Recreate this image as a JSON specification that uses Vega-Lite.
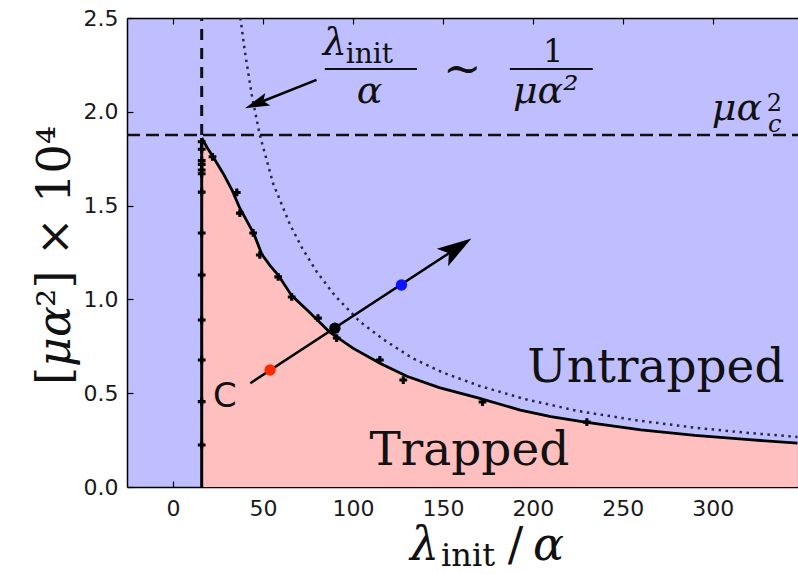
{
  "$schema": "https://vega.github.io/schema/vega-lite/v6.json",
  "width": 671,
  "height": 469,
  "autosize": {"type": "none"},
  "padding": {"left": 127, "top": 18, "right": 0, "bottom": 87},
  "background": "white",
  "config": {
    "view": {"fill": "#bfbfff", "stroke": null},
    "axis": {
      "domainColor": "black", "domainWidth": 1.5, "tickColor": "black", "tickWidth": 1.2,
      "tickSize": -6, "labelFont": "DejaVu Sans", "labelFontSize": 22, "labelColor": "#1a1a1a",
      "grid": false, "title": null
    }
  },
  "resolve": {"axis": {"x": "independent"}},
  "datasets": {
    "curve": [
      {"x": 16, "y": 1.86}, {"x": 19, "y": 1.81}, {"x": 22.3, "y": 1.76}, {"x": 28, "y": 1.67},
      {"x": 33, "y": 1.58}, {"x": 37, "y": 1.49}, {"x": 41, "y": 1.42}, {"x": 45, "y": 1.35},
      {"x": 49.4, "y": 1.24}, {"x": 54, "y": 1.18}, {"x": 58.5, "y": 1.13}, {"x": 66, "y": 1.02},
      {"x": 75, "y": 0.94}, {"x": 87, "y": 0.826}, {"x": 100, "y": 0.74}, {"x": 115, "y": 0.66},
      {"x": 130, "y": 0.59}, {"x": 148, "y": 0.53}, {"x": 170, "y": 0.474}, {"x": 193, "y": 0.41},
      {"x": 210, "y": 0.375}, {"x": 229, "y": 0.346}, {"x": 260, "y": 0.305}, {"x": 290, "y": 0.275},
      {"x": 320, "y": 0.252}, {"x": 347, "y": 0.234}
    ],
    "dotted": [
      {"x": 37.5, "y": 2.5}, {"x": 40, "y": 2.32}, {"x": 44, "y": 2.08}, {"x": 48.3, "y": 1.876},
      {"x": 55.6, "y": 1.62}, {"x": 65, "y": 1.4}, {"x": 72, "y": 1.27}, {"x": 80, "y": 1.146},
      {"x": 90, "y": 1.02}, {"x": 104, "y": 0.88}, {"x": 118, "y": 0.78}, {"x": 133, "y": 0.687},
      {"x": 150, "y": 0.61}, {"x": 170, "y": 0.54}, {"x": 195, "y": 0.47}, {"x": 225, "y": 0.405},
      {"x": 258, "y": 0.355}, {"x": 290, "y": 0.316}, {"x": 320, "y": 0.288}, {"x": 347, "y": 0.267}
    ],
    "markers": [
      {"x": 16, "y": 1.84}, {"x": 16, "y": 1.8}, {"x": 16, "y": 1.74}, {"x": 16, "y": 1.72},
      {"x": 16, "y": 1.69}, {"x": 16, "y": 1.67}, {"x": 16, "y": 1.572}, {"x": 16, "y": 1.354},
      {"x": 16, "y": 1.13}, {"x": 16, "y": 0.89}, {"x": 16, "y": 0.677}, {"x": 16, "y": 0.455},
      {"x": 16, "y": 0.224},
      {"x": 22, "y": 1.76}, {"x": 35.5, "y": 1.57}, {"x": 37.2, "y": 1.46}, {"x": 44.6, "y": 1.354},
      {"x": 48.3, "y": 1.237}, {"x": 58.5, "y": 1.12}, {"x": 66, "y": 1.013}, {"x": 80.6, "y": 0.9},
      {"x": 91, "y": 0.794}, {"x": 115, "y": 0.677}, {"x": 128, "y": 0.57}, {"x": 172, "y": 0.453},
      {"x": 230, "y": 0.346}
    ],
    "vsolid": [{"x": 16, "y": 0, "y2": 1.86}],
    "hdash": [{"x": -25.5, "x2": 347.3, "y": 1.876}],
    "vdash": [{"x": 16, "y": 1.876, "y2": 2.5}],
    "arrows": [
      {"arrow": "main", "x": 43, "y": 0.553}, {"arrow": "main", "x": 157.8, "y": 1.274},
      {"arrow": "note", "x": 79.8, "y": 2.17}, {"arrow": "note", "x": 46.4, "y": 2.043}
    ],
    "headMain": [{"x": 157.8, "y": 1.274}],
    "headNote": [{"x": 46.4, "y": 2.043}],
    "dots": [
      {"x": 54, "y": 0.624, "kind": "start"},
      {"x": 90, "y": 0.846, "kind": "cross"},
      {"x": 127, "y": 1.077, "kind": "end"}
    ],
    "fracBars": [
      {"x": 84.4, "x2": 135.6, "y": 2.228},
      {"x": 187.2, "x2": 233.3, "y": 2.228}
    ],
    "regionLabels": [
      {"x": 268.3, "y": 0.56, "t": "Untrapped"},
      {"x": 164.7, "y": 0.117, "t": "Trapped"}
    ],
    "italic38": [
      {"x": 83.3, "y": 2.303, "t": "λ"},
      {"x": 102.2, "y": 2.047, "t": "α"},
      {"x": 188.9, "y": 2.047, "t": "μα²"},
      {"x": 299.4, "y": 1.956, "t": "μα"}
    ],
    "one": [
      {"x": 205.6, "y": 2.265, "t": "1"}
    ],
    "tilde": [
      {"x": 150, "y": 2.148, "t": "∼"}
    ],
    "upright28": [
      {"x": 96, "y": 2.26, "t": "init"}
    ],
    "sup26": [
      {"x": 330, "y": 2.005, "t": "2"}
    ],
    "italic26": [
      {"x": 330.6, "y": 1.89, "t": "c"}
    ],
    "xtitleItalic": [
      {"x": 131.7, "y": -0.389, "t": "λ"},
      {"x": 200, "y": -0.389, "t": "α"}
    ],
    "xtitleSlash": [
      {"x": 186, "y": -0.389, "t": "/"}
    ],
    "xtitleSub": [
      {"x": 149, "y": -0.42, "t": "init"}
    ],
    "ytitleUpright": [
      {"x": -57.2, "y": 0.544, "t": "["},
      {"x": -57.2, "y": 0.96, "t": "²] × 10⁴"}
    ],
    "ytitleItalic": [
      {"x": -57.2, "y": 0.64, "t": "μα"}
    ],
    "cLabel": [{"x": 28.9, "y": 0.426, "t": "C"}]
  },
  "encoding": {
    "x": {
      "field": "x", "type": "quantitative",
      "scale": {"domain": [-25.5, 347.3], "nice": false, "zero": false},
      "axis": null
    },
    "y": {
      "field": "y", "type": "quantitative",
      "scale": {"domain": [0, 2.5], "nice": false, "zero": false},
      "axis": {"values": [0, 0.5, 1, 1.5, 2, 2.5], "format": ".1f", "labelPadding": 15}
    }
  },
  "layer": [
    {
      "data": {"name": "curve"},
      "mark": {"type": "area", "color": "#ffbfbf", "opacity": 1},
      "encoding": {
        "x": {
          "field": "x", "type": "quantitative",
          "scale": {"domain": [-25.5, 347.3], "nice": false, "zero": false},
          "axis": {"orient": "bottom", "values": [0, 50, 100, 150, 200, 250, 300], "labelPadding": 17}
        },
        "y2": {"datum": 0}
      }
    },
    {
      "data": {"name": "dotted"},
      "mark": {"type": "line", "color": "#26264d", "strokeWidth": 2.5, "strokeDash": [2.5, 4.5], "clip": true},
      "encoding": {}
    },
    {
      "data": {"name": "curve"},
      "mark": {"type": "line", "color": "black", "strokeWidth": 2.8},
      "encoding": {}
    },
    {
      "data": {"name": "vsolid"},
      "mark": {"type": "rule", "color": "black", "strokeWidth": 3},
      "encoding": {"y2": {"field": "y2"}}
    },
    {
      "data": {"name": "hdash"},
      "mark": {"type": "rule", "color": "#111", "strokeWidth": 2.5, "strokeDash": [13, 6]},
      "encoding": {"x2": {"field": "x2"}}
    },
    {
      "data": {"name": "vdash"},
      "mark": {"type": "rule", "color": "#111", "strokeWidth": 3, "strokeDash": [11, 8]},
      "encoding": {
        "x": {
          "field": "x", "type": "quantitative",
          "scale": {"domain": [-25.5, 347.3], "nice": false, "zero": false},
          "axis": {"orient": "top", "labels": false, "values": [0, 50, 100, 150, 200, 250, 300]}
        },
        "y2": {"field": "y2"}
      }
    },
    {
      "data": {"name": "markers"},
      "mark": {"type": "point", "shape": "cross", "filled": true, "color": "black", "size": 60, "opacity": 1},
      "encoding": {}
    },
    {
      "data": {"name": "arrows"},
      "mark": {"type": "line", "color": "black", "strokeWidth": 2.5},
      "encoding": {"detail": {"field": "arrow"}}
    },
    {
      "data": {"name": "headMain"},
      "mark": {"type": "point", "shape": "M1,0L-1,-0.6L-0.55,0L-1,0.6Z", "filled": true, "color": "black", "opacity": 1, "size": 1200, "angle": -33.2},
      "encoding": {}
    },
    {
      "data": {"name": "headNote"},
      "mark": {"type": "point", "shape": "M1,0L-1,-0.55L-0.6,0L-1,0.55Z", "filled": true, "color": "black", "opacity": 1, "size": 600, "angle": 158.5},
      "encoding": {}
    },
    {
      "data": {"name": "dots"},
      "mark": {"type": "point", "filled": true, "opacity": 1, "size": 130},
      "encoding": {
        "color": {"field": "kind", "type": "nominal", "scale": {"domain": ["start", "cross", "end"], "range": ["#ff2a00", "#000000", "#0a14ff"]}, "legend": null}
      }
    },
    {
      "data": {"name": "fracBars"},
      "mark": {"type": "rule", "color": "#111", "strokeWidth": 2},
      "encoding": {"x2": {"field": "x2"}}
    },
    {
      "data": {"name": "regionLabels"},
      "mark": {"type": "text", "font": "DejaVu Serif", "fontSize": 47, "align": "center", "baseline": "alphabetic", "color": "#111"},
      "encoding": {"text": {"field": "t"}}
    },
    {
      "data": {"name": "italic38"},
      "mark": {"type": "text", "font": "DejaVu Serif", "fontStyle": "italic", "fontSize": 38, "align": "left", "baseline": "alphabetic", "color": "#111"},
      "encoding": {"text": {"field": "t"}}
    },
    {
      "data": {"name": "one"},
      "mark": {"type": "text", "font": "DejaVu Serif", "fontSize": 32, "align": "left", "baseline": "alphabetic", "color": "#111"},
      "encoding": {"text": {"field": "t"}}
    },
    {
      "data": {"name": "tilde"},
      "mark": {"type": "text", "font": "DejaVu Serif", "fontSize": 46, "align": "left", "baseline": "alphabetic", "color": "#111"},
      "encoding": {"text": {"field": "t"}}
    },
    {
      "data": {"name": "upright28"},
      "mark": {"type": "text", "font": "DejaVu Serif", "fontSize": 28, "align": "left", "baseline": "alphabetic", "color": "#111"},
      "encoding": {"text": {"field": "t"}}
    },
    {
      "data": {"name": "sup26"},
      "mark": {"type": "text", "font": "DejaVu Serif", "fontSize": 24, "align": "left", "baseline": "alphabetic", "color": "#111"},
      "encoding": {"text": {"field": "t"}}
    },
    {
      "data": {"name": "italic26"},
      "mark": {"type": "text", "font": "DejaVu Serif", "fontStyle": "italic", "fontSize": 24, "align": "left", "baseline": "alphabetic", "color": "#111"},
      "encoding": {"text": {"field": "t"}}
    },
    {
      "data": {"name": "xtitleItalic"},
      "mark": {"type": "text", "font": "DejaVu Serif", "fontStyle": "italic", "fontSize": 46, "align": "left", "baseline": "alphabetic", "color": "#111"},
      "encoding": {"text": {"field": "t"}}
    },
    {
      "data": {"name": "xtitleSlash"},
      "mark": {"type": "text", "font": "DejaVu Serif", "fontSize": 46, "align": "left", "baseline": "alphabetic", "color": "#111"},
      "encoding": {"text": {"field": "t"}}
    },
    {
      "data": {"name": "xtitleSub"},
      "mark": {"type": "text", "font": "DejaVu Serif", "fontSize": 32, "align": "left", "baseline": "alphabetic", "color": "#111"},
      "encoding": {"text": {"field": "t"}}
    },
    {
      "data": {"name": "ytitleUpright"},
      "mark": {"type": "text", "font": "DejaVu Serif", "fontSize": 46, "align": "left", "baseline": "alphabetic", "angle": 270, "color": "#111"},
      "encoding": {"text": {"field": "t"}}
    },
    {
      "data": {"name": "ytitleItalic"},
      "mark": {"type": "text", "font": "DejaVu Serif", "fontStyle": "italic", "fontSize": 46, "align": "left", "baseline": "alphabetic", "angle": 270, "color": "#111"},
      "encoding": {"text": {"field": "t"}}
    },
    {
      "data": {"name": "cLabel"},
      "mark": {"type": "text", "font": "DejaVu Sans", "fontSize": 34, "align": "center", "baseline": "alphabetic", "color": "#111"},
      "encoding": {"text": {"field": "t"}}
    }
  ]
}
